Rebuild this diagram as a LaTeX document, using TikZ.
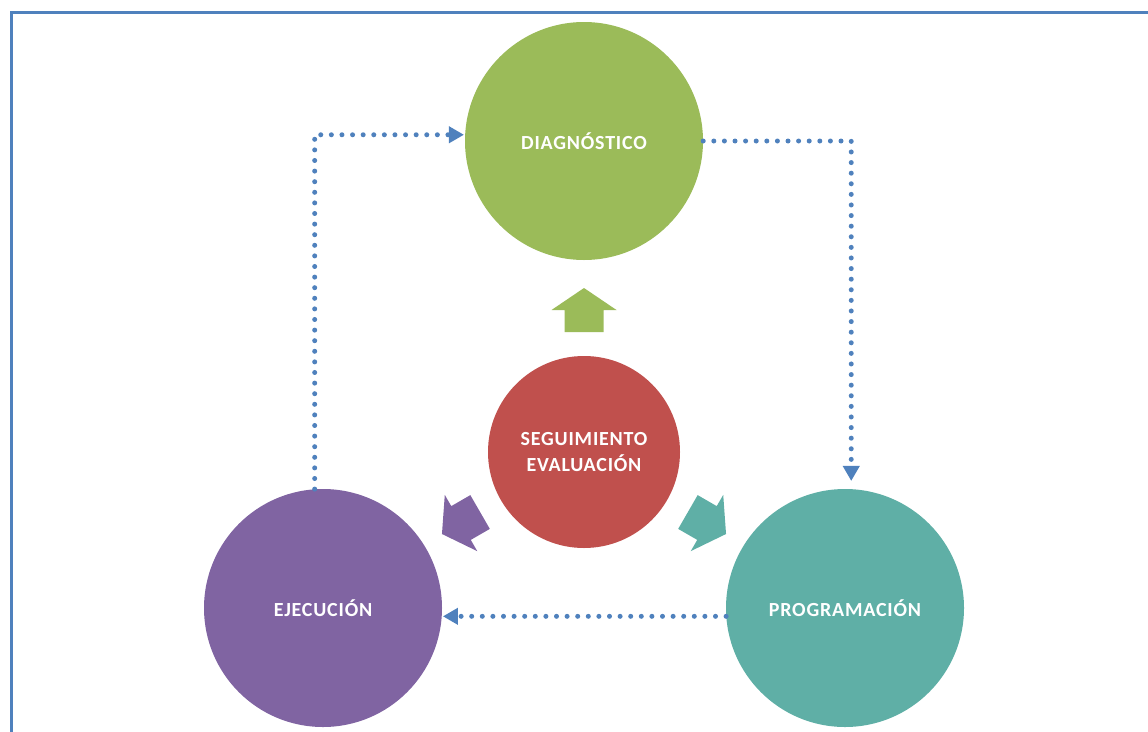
\documentclass[tikz,border=0pt]{standalone}
\usepackage{fontspec}
\setmainfont{Carlito}[LetterSpace=4]
\usetikzlibrary{arrows.meta}
\definecolor{cgreen}{HTML}{9BBB59}
\definecolor{cred}{HTML}{C0504D}
\definecolor{cpurple}{HTML}{8064A2}
\definecolor{cteal}{HTML}{5FAFA6}
\definecolor{cblue}{HTML}{4F81BD}
\tikzset{
  bigcirc/.style={circle, minimum size=238pt, inner sep=0pt, text=white, font=\fontsize{20}{26}\selectfont\bfseries, align=center},
  midcirc/.style={circle, minimum size=192pt, inner sep=0pt, text=white, font=\fontsize{20}{26}\selectfont\bfseries, align=center},
  dotline/.style={draw=cblue, line width=5pt, line cap=round, dash pattern=on 0pt off 10.6pt, -{Triangle[length=15pt,width=16pt,line cap=butt]}},
}
\begin{document}
\begin{tikzpicture}[x=1pt,y=-1pt]
\useasboundingbox (0,0) rectangle (1148,731);
\clip (0,0) rectangle (1148,731);
\draw[cblue, line width=3.5pt] (11.5,12.5) rectangle (1170,760);

\node[bigcirc, fill=cgreen] (dia) at (584,141) {DIAGNÓSTICO};
\node[midcirc, fill=cred] (sev) at (584,452) {SEGUIMIENTO\\EVALUACIÓN};
\node[bigcirc, fill=cpurple] (eje) at (323,608) {EJECUCIÓN};
\node[bigcirc, fill=cteal] (pro) at (845,608) {PROGRAMACIÓN};

% block arrows
\foreach \ang/\col in {0/cgreen, 120/cpurple, -120/cteal}{
  \begin{scope}[shift={(sev.center)}, rotate=\ang]
    \fill[\col] (0,-164) -- (32.5,-142) -- (19.5,-142) -- (19.5,-120) -- (-19.5,-120) -- (-19.5,-142) -- (-32.5,-142) -- cycle;
  \end{scope}
}

% dotted connectors
\draw[dotline, shorten >=1pt] (eje.94) |- (dia.177);
\draw[dotline, shorten >=8pt] (dia.east) -| (pro.87);
\draw[dotline, shorten >=1pt] (pro.184) -- (eje.-4);
\end{tikzpicture}
\end{document}
